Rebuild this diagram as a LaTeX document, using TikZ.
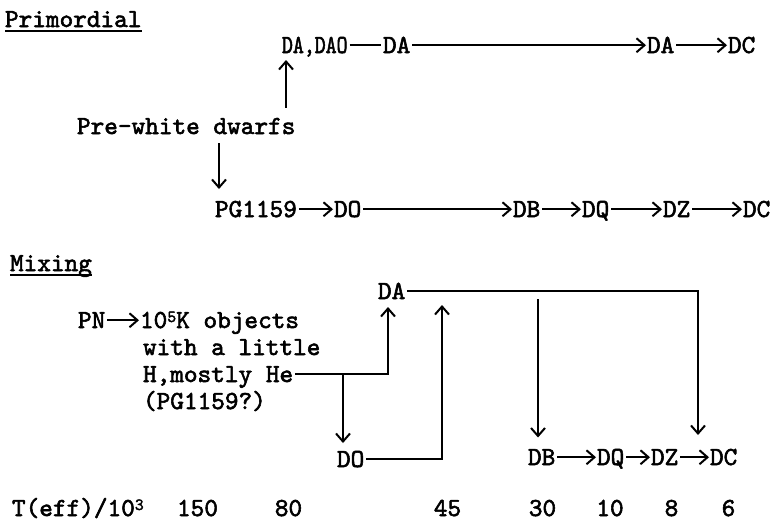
\documentclass[tikz,border=0pt]{standalone}
\usepackage{fontspec}
\newfontfamily\monob{lmmono10-regular.otf}[FakeBold=2.2]
\usetikzlibrary{arrows.meta}
\tikzset{
  txt/.style={inner sep=0pt, outer sep=0pt, anchor=base west,
    font=\fontsize{26}{30}\selectfont\monob,
    text height=15.5pt, text depth=0pt},
  num/.style={txt, anchor=base},
  ln/.style={line width=2pt},
  arr/.style={ln, -{Straight Barb[length=8pt,width=14pt]}},
  harr/.style={arr, shorten <=2pt, shorten >=1pt},
}
\newcommand{\supnum}[1]{\raisebox{6pt}{\fontsize{17}{17}\selectfont #1}}
\begin{document}
\begin{tikzpicture}[x=1pt,y=-1pt]
\useasboundingbox (0,0) rectangle (771,525);
% ---------- Primordial ----------
\node[txt] (prim) at (5,27) {Primordial};
\draw[ln] ([yshift=-4pt]prim.base west) -- ([yshift=-4pt]prim.base east);

\node[txt] (daa) at (282,53) {\scalebox{0.8}[1]{DA,DAO}};
\node[txt] (da1) at (383,53) {DA};
\node[txt] (da2) at (647,53) {DA};
\node[txt] (dc1) at (728,53) {DC};
\draw[ln, shorten <=2pt, shorten >=2pt] (daa.east) -- (da1.west);
\draw[harr] (da1.east) -- (da2.west);
\draw[harr] (da2.east) -- (dc1.west);

\node[txt] (pwd) at (77,134) {Pre-white dwarfs};
\coordinate (u1a) at ([xshift=4pt,yshift=-7pt]daa.south west);
\coordinate (u1b) at ([yshift=11pt]pwd.north);
\draw[arr] (u1b -| u1a) -- (u1a);

\node[txt] (pg) at (215,217) {PG1159};
\coordinate (d1b) at ([xshift=4pt,yshift=12.5pt]pg.north west);
\coordinate (d1a) at ([yshift=-9pt]pwd.south);
\draw[arr] (d1a -| d1b) -- (d1b);

\node[txt] (do1) at (334,217) {DO};
\node[txt] (db1) at (513,217) {DB};
\node[txt] (dq1) at (582,217) {DQ};
\node[txt] (dz1) at (663,217) {DZ};
\node[txt] (dc2) at (743,217) {DC};
\draw[harr] (pg.east) -- (do1.west);
\draw[harr] (do1.east) -- (db1.west);
\draw[harr] (db1.east) -- (dq1.west);
\draw[harr] (dq1.east) -- (dz1.west);
\draw[harr] (dz1.east) -- (dc2.west);

% ---------- Mixing ----------
\node[txt] (mix) at (10,271) {Mixing};
\draw[ln] ([yshift=-4pt]mix.base west) -- ([yshift=-4pt]mix.base east);

\node[txt] (daM) at (378,299) {DA};
\node[txt] (pn) at (78,328) {PN};
\node[txt] (l1) at (140,328) {10\supnum{5}K objects};
\node[txt] (l2) at (143,355) {with a little};
\node[txt] (l3) at (143,382) {H,mostly He};
\node[txt] (l4) at (143,409) {(PG1159?)};
\draw[harr] (pn.east) -- (l1.west);

\node[txt] (doM) at (337,467) {DO};
\node[txt] (dbM) at (528,465) {DB};
\node[txt] (dqM) at (597,465) {DQ};
\node[txt] (dzM) at (651,465) {DZ};
\node[txt] (dcM) at (710,465) {DC};
\draw[harr] (dbM.east) -- (dqM.west);
\draw[harr] (dqM.east) -- (dzM.west);
\draw[harr] (dzM.east) -- (dcM.west);

% He -> DA and He -> DO
\coordinate (jup) at ([xshift=10pt,yshift=-8pt]daM.south west);
\draw[arr, shorten <=2pt] (l3.east) -| (jup);
\coordinate (jdn) at ([xshift=6pt,yshift=8.5pt]doM.north west);
\draw[arr] (l3.east -| jdn) -- (jdn);
% DO -> up
\coordinate (jup2) at ([xshift=64pt,yshift=-6pt]daM.south west);
\draw[arr, shorten <=2pt] (doM.east) -| (jup2);
% DA -> DC region and DA -> DB
\coordinate (k1) at ([xshift=-12pt,yshift=14.5pt]dcM.north west);
\draw[arr, shorten <=2pt] (daM.east) -| (k1);
\coordinate (k2) at ([xshift=10pt,yshift=12pt]dbM.north west);
\coordinate (k2s) at ([yshift=-8pt]daM.east);
\draw[arr] (k2s -| k2) -- (k2);

% ---------- temperature scale ----------
\node[txt] (tl) at (12,516) {T(eff)/10\supnum{3}};
\node[num] (t150) at (197.5,516) {150};
\node[num] (t80) at (288.5,516) {80};
\node[num] (t45) at (447.5,516) {45};
\node[num] (t30) at (542.5,516) {30};
\node[num] (t10) at (610,516) {10};
\node[num] (t8) at (671.5,516) {8};
\node[num] (t6) at (728.5,516) {6};
\end{tikzpicture}
\end{document}
